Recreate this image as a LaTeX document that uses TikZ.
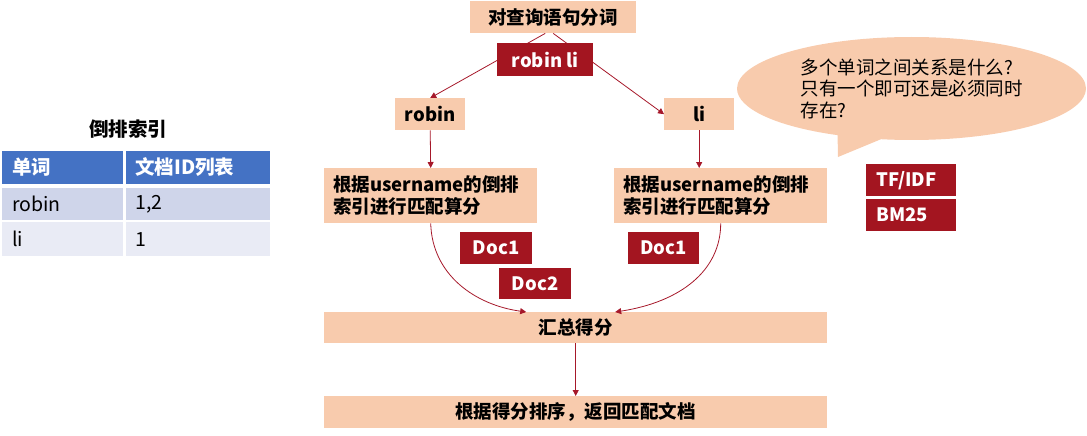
\documentclass[tikz,border=0pt]{standalone}
\usepackage{fontspec}
\setmainfont{Noto Sans CJK SC}
\usetikzlibrary{arrows.meta,shapes.callouts,calc}
\definecolor{peach}{HTML}{F8CBAD}
\definecolor{deepred}{HTML}{A31520}
\definecolor{linered}{HTML}{A6182A}
\definecolor{hdrblue}{HTML}{4472C4}
\definecolor{rowa}{HTML}{CFD5EA}
\definecolor{rowb}{HTML}{E9EBF5}

\begin{document}
\begin{tikzpicture}[x=1pt,y=-1pt,
  txt/.style={font=\fontsize{18.5}{21.5}\selectfont},
  bold/.style={font=\bfseries\fontsize{18.5}{22}\selectfont},
  pbox/.style={bold, fill=peach, inner sep=0pt, anchor=north west},
  rbox/.style={bold, fill=deepred, text=white, inner sep=0pt, anchor=north west},
  cell/.style={anchor=north west, inner ysep=0pt, text width=#1, align=left},
  conn/.style={draw=linered, line width=0.8pt, -{Triangle[length=6pt,width=6pt]}}
]
\useasboundingbox (0,0) rectangle (1087,436);

% ---- inverted index table ----
\node[font=\bfseries\fontsize{19.5}{22}\selectfont] (ttl) at (128,129) {倒排索引};
\node[cell=101pt, inner xsep=10pt, fill=hdrblue, text=white, minimum height=32.3pt,
      font=\bfseries\fontsize{19.5}{22}\selectfont] (h1) at (2,151) {单词};
\node[cell=125pt, inner xsep=9.7pt, fill=hdrblue, text=white, minimum height=32.3pt,
      font=\bfseries\fontsize{19.5}{22}\selectfont] (h2) at (125.3,151) {文档ID列表};
\node[cell=101pt, inner xsep=10pt, fill=rowa, minimum height=32.7pt,
      font=\fontsize{19.5}{22}\selectfont] (a1) at (2,187.3) {robin};
\node[cell=125pt, inner xsep=9.7pt, fill=rowa, minimum height=32.7pt,
      font=\fontsize{19.5}{22}\selectfont] (a2) at (125.3,187.3) {1,2};
\node[cell=101pt, inner xsep=10pt, fill=rowb, minimum height=34.3pt,
      font=\fontsize{19.5}{22}\selectfont] (b1) at (2,221.7) {li};
\node[cell=125pt, inner xsep=9.7pt, fill=rowb, minimum height=34.3pt,
      font=\fontsize{19.5}{22}\selectfont] (b2) at (125.3,221.7) {1};

% ---- query flow ----
\node[pbox, minimum width=166pt, minimum height=32pt] (seg) at (470,1) {对查询语句分词};
\node[pbox, minimum width=70pt, minimum height=32pt] (robin) at (395,98) {robin};
\node[pbox, minimum width=70pt, minimum height=32pt] (li) at (664,98) {li};

\draw[conn] ([xshift=-8pt]seg.south) -- (robin.north);
\draw[conn] (seg.south) -- (li.west);

\node[rbox, minimum width=96pt, minimum height=33pt] (terms) at (497,43) {robin li};

\node[pbox, text width=195pt, inner xsep=9pt, minimum height=55pt, align=left] (lscore) at (324,168)
  {根据username的倒排\\索引进行匹配算分};
\node[pbox, text width=195pt, inner xsep=9pt, minimum height=55pt, align=left] (rscore) at (614,168)
  {根据username的倒排\\索引进行匹配算分};

\draw[conn] (robin.south) -- (lscore.north);
\draw[conn] (li.south) -- (li.south |- rscore.north);

\node[rbox, minimum width=72pt, minimum height=32pt] (ldoca) at (460,232) {Doc1};
\node[rbox, minimum width=72pt, minimum height=31pt] (ldocb) at (499,268) {Doc2};
\node[rbox, minimum width=71pt, minimum height=32pt] (rdoca) at (628,232) {Doc1};

\node[pbox, minimum width=503pt, minimum height=31pt] (sum) at (324,312) {汇总得分};
\node[pbox, minimum width=503pt, minimum height=32pt] (final) at (324,396) {根据得分排序，返回匹配文档};

\draw[conn] (lscore.south) .. controls ($(lscore.south)+(1.5,52)$) and ($(sum.north)+(-100,-7)$)
  .. ([xshift=-49.5pt]sum.north);
\draw[conn] (rscore.south) .. controls ($(rscore.south)+(0,47)$) and ($(sum.north)+(105,-10)$)
  .. ([xshift=39.5pt]sum.north);
\draw[conn] (sum.south) -- (final.north);

% ---- question bubble and scoring models ----
\node[ellipse callout, fill=peach, minimum width=349pt, minimum height=103pt, inner sep=0pt,
      callout absolute pointer={(838,157)}, txt, align=left] (ask) at (911.5,88.5)
  {多个单词之间关系是什么?\\只有一个即可还是必须同时\\存在?};

\node[rbox, text width=70pt, inner xsep=10pt, minimum height=32pt, align=left] (tfidf) at (866,164) {TF/IDF};
\node[rbox, text width=70pt, inner xsep=10pt, minimum height=32pt, align=left] (bm) at (866,199) {BM25};
\end{tikzpicture}
\end{document}
